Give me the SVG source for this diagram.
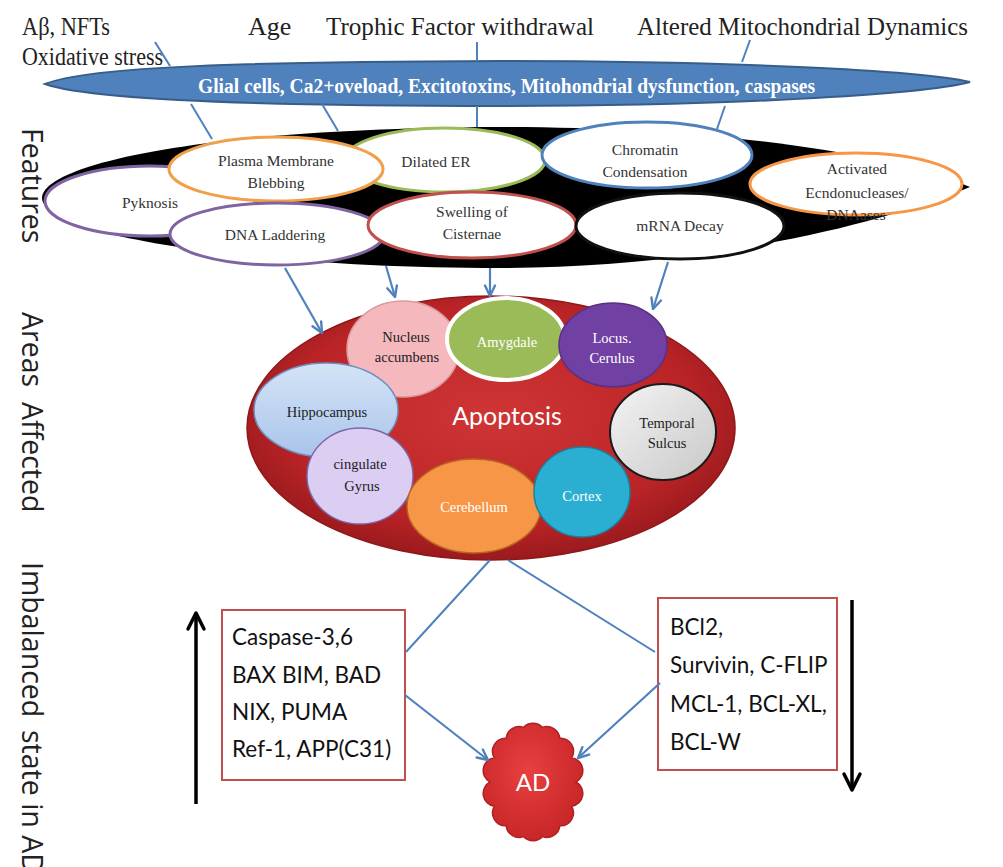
<svg xmlns="http://www.w3.org/2000/svg" width="1003" height="867" viewBox="0 0 1003 867">
  <style>
    .top { font-family: "Liberation Serif", serif; font-size: 26px; fill: #222; }
    .feat { font-family: "Liberation Serif", serif; font-size: 15.5px; fill: #333; text-anchor: middle; }
    .area { font-family: "Liberation Serif", serif; font-size: 14.5px; text-anchor: middle; }
    .dark { fill: #222; }
    .light { fill: #fff; }
    .side { font-family: "Open Sans", sans-serif; font-size: 28.5px; fill: #222; }
    .box { font-family: Lato, sans-serif; font-size: 22.5px; fill: #111; }
    .fe { fill: #fff; stroke-width: 3; }
    .link { stroke: #4f81bd; stroke-width: 2; fill: none; }
    .arrow { stroke: #4f81bd; stroke-width: 2.2; fill: none; marker-end: url(#headBlue); }
    .bigarrow { stroke: #000; stroke-width: 3.5; fill: none; marker-end: url(#headBlack); }
  </style>
  <defs>
    <marker id="headBlue" viewBox="0 0 14 14" refX="12.5" refY="7" markerWidth="14" markerHeight="14" markerUnits="userSpaceOnUse" orient="auto">
      <path d="M2,2 L12.5,7 L2,12" fill="none" stroke="#4f81bd" stroke-width="2.4" stroke-linecap="round" stroke-linejoin="round"/>
    </marker>
    <marker id="headBlack" viewBox="0 0 22 22" refX="19" refY="11" markerWidth="22" markerHeight="22" markerUnits="userSpaceOnUse" orient="auto">
      <path d="M3,3 L19,11 L3,19" fill="none" stroke="#000" stroke-width="3.5" stroke-linecap="round" stroke-linejoin="round"/>
    </marker>
    <radialGradient id="gRed" cx="0.5" cy="0.45" r="0.55">
      <stop offset="0" stop-color="#cf3535"/>
      <stop offset="0.75" stop-color="#bb2427"/>
      <stop offset="1" stop-color="#9a1a1d"/>
    </radialGradient>
    <radialGradient id="gCloud" cx="0.45" cy="0.4" r="0.6">
      <stop offset="0" stop-color="#e84040"/>
      <stop offset="1" stop-color="#c82628"/>
    </radialGradient>
    <linearGradient id="gHippo" x1="0" y1="0" x2="0" y2="1">
      <stop offset="0" stop-color="#d4e4f7"/>
      <stop offset="1" stop-color="#a9c4ea"/>
    </linearGradient>
    <linearGradient id="gTemp" x1="0" y1="0" x2="1" y2="1">
      <stop offset="0" stop-color="#f4f4f4"/>
      <stop offset="1" stop-color="#c8c8c8"/>
    </linearGradient>
  </defs>

  <rect width="1003" height="867" fill="#fff"/>

  <!-- side headings -->
  <g id="side-labels">
    <text class="side" transform="translate(22,128) rotate(90)">Features</text>
    <text class="side" transform="translate(22,312) rotate(90)">Areas</text>
    <text class="side" transform="translate(22,402) rotate(90)">Affected</text>
    <text class="side" transform="translate(22,562) rotate(90)">Imbalanced</text>
    <text class="side" transform="translate(22,730) rotate(90)">state in AD</text>
  </g>

  <!-- causes -->
  <g id="causes">
    <text class="top" x="22" y="35" textLength="88" lengthAdjust="spacingAndGlyphs">Aβ, NFTs</text>
    <text class="top" x="22" y="65" textLength="141" lengthAdjust="spacingAndGlyphs">Oxidative stress</text>
    <text class="top" x="248" y="35">Age</text>
    <text class="top" x="326" y="35" textLength="268" lengthAdjust="spacingAndGlyphs">Trophic Factor withdrawal</text>
    <text class="top" x="637" y="35" textLength="331" lengthAdjust="spacingAndGlyphs">Altered Mitochondrial Dynamics</text>
  </g>

  <!-- mediator band -->
  <g id="mediators">
    <path d="M45,84 C90,66 250,62 500,61 C720,61 920,70 970,82 C920,95 720,106 500,106 C250,106 90,100 45,84 Z" fill="#4f81bd" stroke="#385d8a" stroke-width="2"/>
    <text x="198" y="93" font-family="Liberation Serif, serif" font-size="20" font-weight="bold" fill="#fff" textLength="617" lengthAdjust="spacingAndGlyphs">Glial cells, Ca2+oveload, Excitotoxins, Mitohondrial dysfunction, caspases</text>
  </g>

  <!-- features band -->
  <g id="features">
    <path d="M42,198 C42,165 200,128 500,127 C700,127 880,150 970,187 C880,225 700,268 500,268 C250,268 42,235 42,198 Z" fill="#000"/>
    <g id="f-dilated-er">
      <ellipse class="fe" cx="445" cy="160" rx="100" ry="32" stroke="#9bbb59"/>
      <text class="feat" x="436" y="167">Dilated ER</text>
    </g>
    <g id="f-chromatin">
      <ellipse class="fe" cx="647" cy="155" rx="105" ry="33" stroke="#4f81bd"/>
      <text class="feat" x="645" y="155">Chromatin</text>
      <text class="feat" x="645" y="177">Condensation</text>
    </g>
    <g id="f-pyknosis">
      <ellipse class="fe" cx="150" cy="201" rx="105" ry="35" stroke="#8064a2"/>
      <text class="feat" x="150" y="208">Pyknosis</text>
    </g>
    <g id="f-blebbing">
      <ellipse class="fe" cx="276" cy="169" rx="107" ry="32" stroke="#f0a04b"/>
      <text class="feat" x="276" y="166">Plasma Membrane</text>
      <text class="feat" x="276" y="188">Blebbing</text>
    </g>
    <g id="f-dna-laddering">
      <ellipse class="fe" cx="277" cy="234" rx="107" ry="31" stroke="#8064a2"/>
      <text class="feat" x="275" y="240">DNA Laddering</text>
    </g>
    <g id="f-swelling">
      <ellipse class="fe" cx="472" cy="225" rx="104" ry="33" stroke="#c0504d"/>
      <text class="feat" x="472" y="217">Swelling of</text>
      <text class="feat" x="472" y="239">Cisternae</text>
    </g>
    <g id="f-mrna">
      <ellipse class="fe" cx="680" cy="226" rx="104" ry="33" stroke="#111" stroke-width="1.5"/>
      <text class="feat" x="680" y="231">mRNA Decay</text>
    </g>
    <g id="f-endonucleases">
      <ellipse class="fe" cx="856" cy="184" rx="106" ry="31" stroke="#f79646"/>
      <text class="feat" x="857" y="174">Activated</text>
      <text class="feat" x="857" y="198">Ecndonucleases/</text>
      <text class="feat" x="856" y="220">DNAases</text>
    </g>
  </g>

  <!-- affected areas -->
  <g id="areas">
    <g id="apoptosis">
      <ellipse cx="491" cy="428" rx="244" ry="132" fill="url(#gRed)" stroke="#8e1719" stroke-width="1.5"/>
      <text x="507" y="425" font-family="Lato, sans-serif" font-size="25" fill="#fff" text-anchor="middle">Apoptosis</text>
    </g>
    <g id="a-nucleus">
      <ellipse cx="403" cy="349" rx="56" ry="48" fill="#f5b8bd" stroke="#d99aa0" stroke-width="1.5"/>
      <text class="area dark" x="406" y="342">Nucleus</text>
      <text class="area dark" x="407" y="362">accumbens</text>
    </g>
    <g id="a-amygdale">
      <ellipse cx="506" cy="339" rx="59" ry="41" fill="#9bbb59" stroke="#fff" stroke-width="4"/>
      <text class="area light" x="507" y="347">Amygdale</text>
    </g>
    <g id="a-locus">
      <ellipse cx="613" cy="345" rx="54" ry="42" fill="#7040a2" stroke="#5a2f88" stroke-width="1.5"/>
      <text class="area light" x="612" y="343">Locus.</text>
      <text class="area light" x="612" y="363">Cerulus</text>
    </g>
    <g id="a-hippocampus">
      <ellipse cx="326" cy="410" rx="72" ry="47" fill="url(#gHippo)" stroke="#6f8fbf" stroke-width="1.5"/>
      <text class="area dark" x="327" y="417">Hippocampus</text>
    </g>
    <g id="a-cingulate">
      <ellipse cx="360" cy="476" rx="53" ry="48" fill="#dccdf2" stroke="#7e67a8" stroke-width="1.5"/>
      <text class="area dark" x="360" y="469">cingulate</text>
      <text class="area dark" x="362" y="491">Gyrus</text>
    </g>
    <g id="a-cerebellum">
      <ellipse cx="474" cy="506" rx="67" ry="47" fill="#f79646" stroke="#b8651f" stroke-width="1.5"/>
      <text class="area light" x="474" y="512">Cerebellum</text>
    </g>
    <g id="a-cortex">
      <ellipse cx="582" cy="492" rx="48" ry="45" fill="#2aaed2" stroke="#1b7f9c" stroke-width="1.5"/>
      <text class="area light" x="582" y="501">Cortex</text>
    </g>
    <g id="a-temporal">
      <ellipse cx="663" cy="432" rx="53" ry="48" fill="url(#gTemp)" stroke="#1a1a1a" stroke-width="2"/>
      <text class="area dark" x="667" y="428">Temporal</text>
      <text class="area dark" x="667" y="448">Sulcus</text>
    </g>
  </g>

  <!-- pro- and anti-apoptotic factors -->
  <g id="pro-apoptotic">
    <rect x="222" y="610" width="183" height="170" fill="#fff" stroke="#c0504d" stroke-width="2"/>
    <text class="box" x="232" y="645">Caspase-3,6</text>
    <text class="box" x="232" y="683">BAX BIM, BAD</text>
    <text class="box" x="232" y="720">NIX, PUMA</text>
    <text class="box" x="232" y="757">Ref-1, APP(C31)</text>
  </g>
  <g id="anti-apoptotic">
    <rect x="658" y="598" width="179" height="172" fill="#fff" stroke="#c0504d" stroke-width="2"/>
    <text class="box" x="670" y="635">BCl2,</text>
    <text class="box" x="670" y="673">Survivin, C-FLIP</text>
    <text class="box" x="670" y="712">MCL-1, BCL-XL,</text>
    <text class="box" x="670" y="750">BCL-W</text>
  </g>

  <!-- outcome -->
  <g id="ad">
    <path d="M576,782 A13,13 0 0 1 571.7,806.3 A13,13 0 0 1 559.8,825.8 A13,13 0 0 1 542.6,836.6 A13,13 0 0 1 523.4,836.6 A13,13 0 0 1 506.2,825.8 A13,13 0 0 1 494.3,806.3 A13,13 0 0 1 490,782 A13,13 0 0 1 494.3,757.7 A13,13 0 0 1 506.2,738.2 A13,13 0 0 1 523.4,727.4 A13,13 0 0 1 542.6,727.4 A13,13 0 0 1 559.8,738.2 A13,13 0 0 1 571.7,757.7 A13,13 0 0 1 576,782 Z" fill="url(#gCloud)" stroke="#b01f22" stroke-width="1.5"/>
    <text x="533" y="791" font-family="Lato, sans-serif" font-size="24" fill="#fff" text-anchor="middle">AD</text>
  </g>

  <!-- connectors -->
  <g id="connectors">
    <line class="link" x1="155" y1="42" x2="170" y2="66"/>
    <line class="link" x1="191" y1="104" x2="212" y2="139"/>
    <line class="link" x1="322" y1="104" x2="338" y2="131"/>
    <line class="link" x1="477" y1="42" x2="477" y2="61"/>
    <line class="link" x1="477" y1="106" x2="477" y2="127"/>
    <line class="link" x1="750" y1="40" x2="742" y2="62"/>
    <line class="link" x1="725" y1="106" x2="717" y2="129"/>

    <line class="arrow" x1="285" y1="268" x2="322" y2="333"/>
    <line class="arrow" x1="386" y1="266" x2="395" y2="297"/>
    <line class="arrow" x1="490" y1="268" x2="490" y2="296"/>
    <line class="arrow" x1="668" y1="262" x2="653" y2="309"/>

    <line class="link" x1="490" y1="560" x2="406" y2="652"/>
    <line class="link" x1="508" y1="560" x2="655" y2="652"/>
    <line class="arrow" x1="405" y1="695" x2="488" y2="760"/>
    <line class="arrow" x1="660" y1="683" x2="578" y2="758"/>

    <line class="bigarrow" x1="196" y1="804" x2="196" y2="613"/>
    <line class="bigarrow" x1="852" y1="600" x2="852" y2="790"/>
  </g>
</svg>
